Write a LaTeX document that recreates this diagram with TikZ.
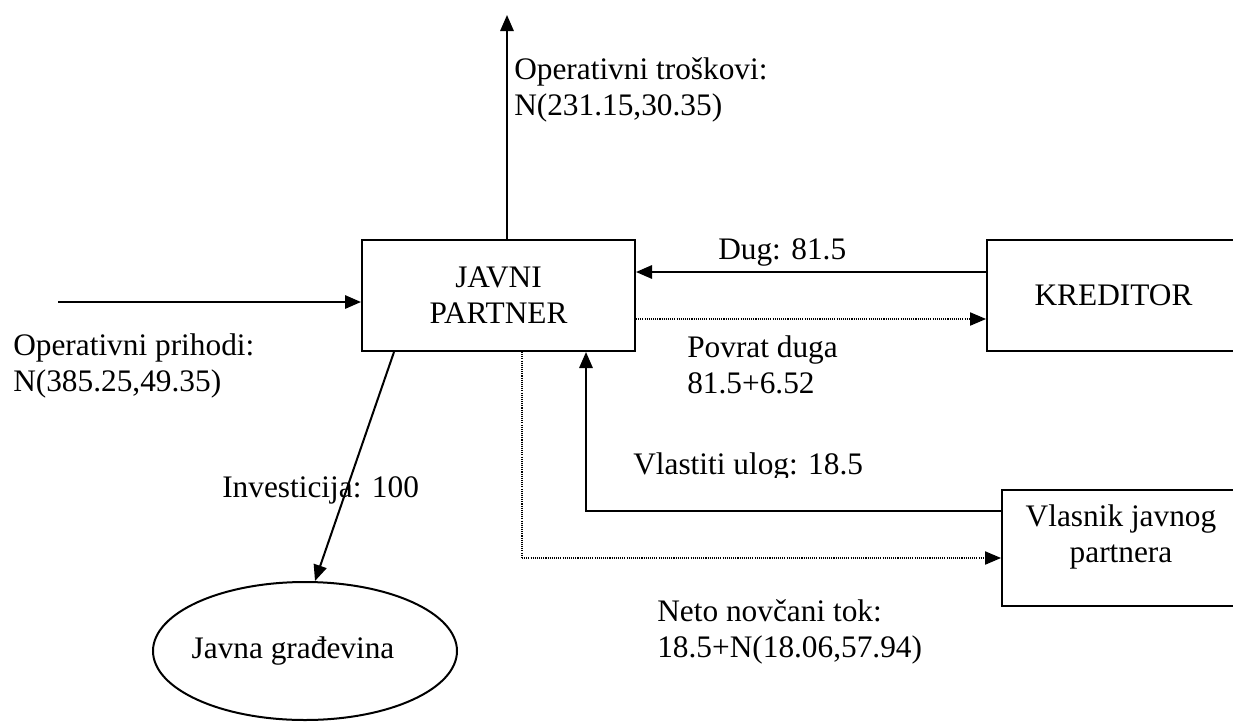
\documentclass[tikz,border=0pt]{standalone}
\usepackage{fontspec}
\setmainfont{Liberation Serif}
\usetikzlibrary{arrows.meta,shapes.geometric}
\begin{document}
\begin{tikzpicture}[x=0.75pt,y=-0.75pt,
  every node/.style={font=\fontsize{23.5pt}{27pt}\selectfont},
  box/.style={draw, line width=1.5pt, inner sep=0pt, align=center},
  lbl/.style={inner sep=0pt, align=left},
  flow/.style={line width=1.5pt, -{Triangle[length=12pt,width=10pt]}},
  dflow/.style={line width=0.8pt, dash pattern=on 0.8pt off 0.8pt, -{Triangle[length=12pt,width=10pt]}},
  dline/.style={line width=0.8pt, dash pattern=on 0.8pt off 0.8pt}]
\useasboundingbox (0,0) rectangle (1233,722);
\clip (0,0) rectangle (1233,722);

% boxes
\node[box, minimum width=204.75pt, minimum height=83.25pt] (jp) at (498.5,295.5) {JAVNI\\PARTNER};
\node[box, minimum width=189.75pt, minimum height=83.25pt] (kr) at (1113.5,295.5) {KREDITOR};
\node[box, minimum width=178.5pt, minimum height=87pt] (vl) at (1121,548) {Vlasnik javnog\\partnera\\[-6pt]\mbox{}};
\node[draw, ellipse, line width=1.5pt, inner sep=0pt, minimum width=228pt, minimum height=103.5pt] (jg) at (305,651) {\makebox[0pt]{Javna građevina\hspace{18pt}}};

% helper coordinates
\coordinate (topend) at (507,15);
\coordinate (leftstart) at (58,302);
\coordinate (dugy) at (0,272);
\coordinate (povy) at (0,319);
\coordinate (vlx) at (586,0);
\coordinate (vly) at (0,511);
\coordinate (dotx) at (522,0);
\coordinate (doty) at (0,558);
\coordinate (invstart) at (394,0);
\coordinate (invend) at (315,0);

% connectors
\draw[flow] (jp.north -| topend) -- (topend);
\draw[flow] (leftstart) -- (leftstart -| jp.west);
\draw[flow] (kr.west |- dugy) -- (jp.east |- dugy);
\draw[dflow] (jp.east |- povy) -- (kr.west |- povy);
\draw[flow] (vl.west |- vly) -- (vlx |- vly) -- (jp.south -| vlx);
\draw[dline] (jp.south -| dotx) -- (dotx |- doty);
\draw[dflow] (dotx |- doty) -- (vl.west |- doty);
\draw[flow] (jp.south -| invstart) -- (jg.north -| invend);

% labels
\node[lbl, anchor=west] (ot) at (514,90) {Operativni troškovi:\\N(231.15,30.35)};
\node[lbl, anchor=west] (op) at (13,366) {Operativni prihodi:\\N(385.25,49.35)};
\node[lbl, anchor=west] (dug) at (718,252) {Dug: 81.5};
\node[lbl, anchor=west] (pd) at (687,365) {Povrat duga\\81.5+6.52};
\begin{scope}
\clip (600,420) rectangle (900,477);
\node[lbl, anchor=west] (vu) at (633,467) {Vlastiti ulog: 18.5};
\end{scope}
\node[lbl, anchor=west] (inv) at (222,490) {Investicija: 100};
\node[lbl, anchor=west] (nnt) at (657,632) {Neto novčani tok:\\18.5+N(18.06,57.94)};
\end{tikzpicture}
\end{document}
